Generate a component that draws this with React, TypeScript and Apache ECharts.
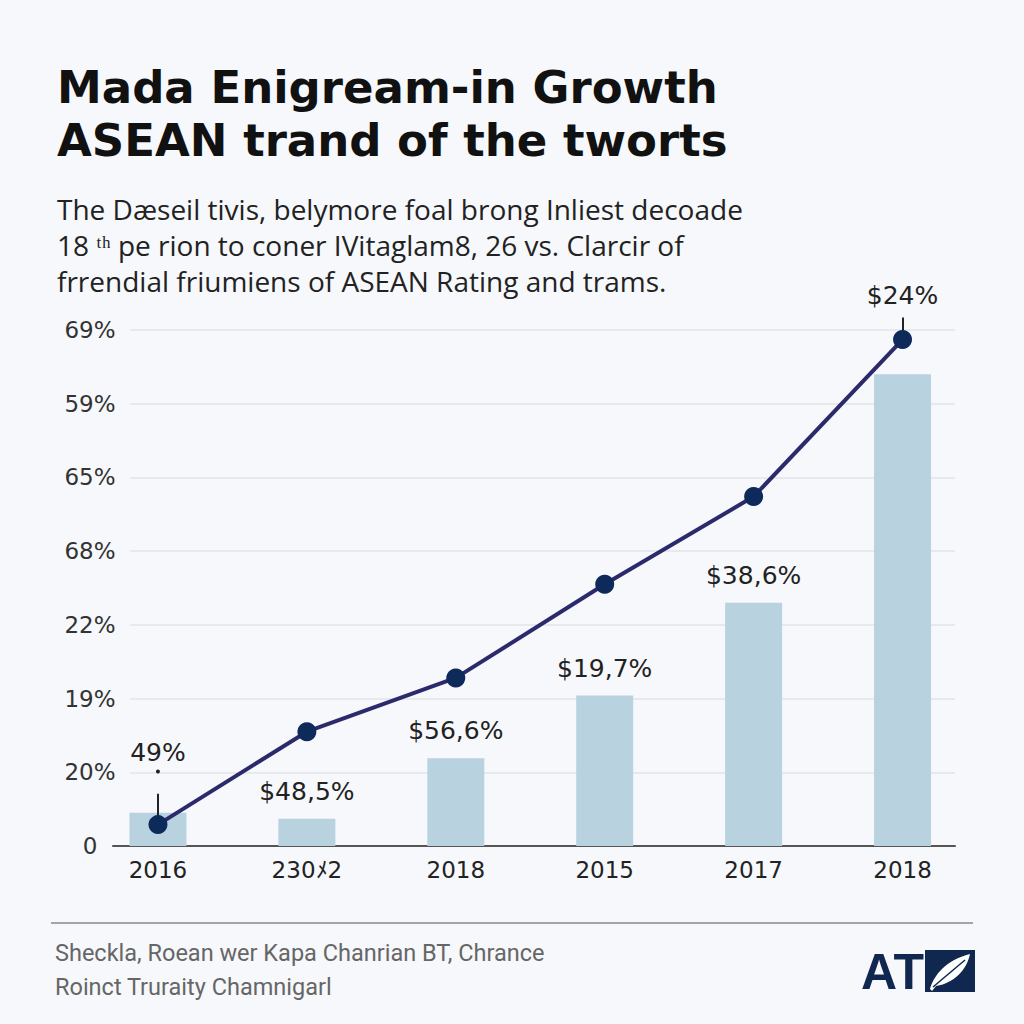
import React, { useEffect, useRef } from "react";
import * as echarts from "echarts";

const titleLines = ["Mada Enigream-in Growth", "ASEAN trand of the tworts"];
const subtitleLines = [
  "The Dæseil tivis, belymore foal brong Inliest decoade",
  "18 ᵗʰ pe rion to coner IVitaglam8, 26 vs. Clarcir of",
  "frrendial friumiens of ASEAN Rating and trams.",
];
const footerLines = [
  "Sheckla, Roean wer Kapa Chanrian BT, Chrance",
  "Roinct Truraity Chamnigarl",
];
const logoText = "AT";

const categories = ["2016", "230ﾒ2", "2018", "2015", "2017", "2018"];
const yTickLabels = ["0", "20%", "19%", "22%", "68%", "65%", "59%", "69%"];
const barValues = [0.45, 0.37, 1.19, 2.04, 3.3, 6.4];
const lineValues = [0.29, 1.55, 2.28, 3.55, 4.74, 6.87];
const barLabels = ["", "$48,5%", "$56,6%", "$19,7%", "$38,6%", ""];
const pointLabels = ["49%", "", "", "", "", "$24%"];

echarts.graphic.registerShape(
  "leaf",
  echarts.graphic.extendPath("M5 39 C9 25 21 10 45 4 C42 19 30 33 11 36 L7 41 Z", {}) as any
);

const FONT = "DejaVu Sans";

export default function App() {
  const ref = useRef<HTMLDivElement>(null);
  useEffect(() => {
    if (!ref.current) return;
    const chart = echarts.init(ref.current, undefined, { renderer: "svg" });
    const labelGap: Record<number, number> = { 0: 50, 5: 22 };
    const tickLen: Record<number, number> = { 0: 0.42, 5: 0.3 };
    const labeled = pointLabels
      .map((t, i) => (t ? i : -1))
      .filter((i) => i >= 0);
    // plot area: y from 0 (px 846) to 7 (px 330); the data grid extends by 0.5 unit above
    const unitPx = (846 - 330) / 7;
    const dataTop = 330 - unitPx * 0.5;
    const titleStyle = {
      fontFamily: "DejaVu Sans",
      fontWeight: "bold",
      fontSize: 45,
      lineHeight: 45,
      color: "#111",
    };
    const option: any = {
      animation: false,
      backgroundColor: "#f6f8fb",
      title: [
        { text: titleLines[0], left: 57, top: 65, padding: 0, textStyle: titleStyle },
        { text: titleLines[1], left: 57, top: 118, padding: 0, textStyle: titleStyle },
        {
          text: subtitleLines.join("\n"),
          left: 57,
          top: 191,
          padding: 0,
          textStyle: {
            fontFamily: "Open Sans",
            fontWeight: "normal",
            fontSize: 28,
            lineHeight: 36,
            color: "#222",
          },
        },
        {
          text: footerLines.join("\n"),
          left: 55,
          top: 936,
          padding: 0,
          textStyle: {
            fontFamily: "Roboto",
            fontWeight: "normal",
            fontSize: 23.5,
            lineHeight: 34,
            color: "#666",
          },
        },
      ],
      grid: [
        { left: 130, right: 69, top: 330, bottom: 178 },
        { left: 83.5, right: 47, top: dataTop, bottom: 178 },
        { left: 113, right: 69, top: 330, bottom: 178 },
      ],
      xAxis: [
        { gridIndex: 0, type: "value", show: false, min: 0, max: 1 },
        {
          gridIndex: 1,
          type: "category",
          data: categories,
          axisLine: { show: false },
          axisTick: { show: false },
          axisLabel: { fontFamily: FONT, fontSize: 23, color: "#222", margin: 12 },
        },
        {
          gridIndex: 2,
          type: "value",
          min: 0,
          max: 1,
          position: "bottom",
          axisLine: { show: true, onZero: false, lineStyle: { color: "#555", width: 2 } },
          axisTick: { show: false },
          axisLabel: { show: false },
          splitLine: { show: false },
        },
      ],
      yAxis: [
        {
          gridIndex: 0,
          type: "value",
          min: 0,
          max: 7,
          interval: 1,
          axisLine: { show: false },
          axisTick: { show: false },
          axisLabel: {
            fontFamily: FONT,
            fontSize: 23,
            color: "#333",
            align: "center",
            margin: 40,
            formatter: (v: number) => yTickLabels[Math.round(v)] ?? "",
          },
          splitLine: { show: true, lineStyle: { color: "#e2e5e9", width: 1.5 } },
        },
        { gridIndex: 1, type: "value", min: 0, max: 7.5, show: false },
        { gridIndex: 2, type: "value", min: 0, max: 7, show: false },
      ],
      series: [
        {
          type: "bar",
          xAxisIndex: 1,
          yAxisIndex: 1,
          barWidth: 57,
          itemStyle: { color: "#b8d2e0" },
          data: barValues.map((v, i) => ({
            value: v,
            label: {
              show: !!barLabels[i],
              position: "top",
              distance: 15,
              formatter: barLabels[i],
              fontFamily: FONT,
              fontSize: 25,
              color: "#222",
            },
          })),
        },
        {
          type: "line",
          xAxisIndex: 1,
          yAxisIndex: 1,
          symbol: "circle",
          symbolSize: 19,
          clip: false,
          lineStyle: { color: "#2b2a6b", width: 4 },
          itemStyle: { color: "#0e2a5a" },
          z: 5,
          data: lineValues.map((v, i) => ({
            value: v,
            label: {
              show: !!pointLabels[i],
              position: "top",
              distance: labelGap[i] ?? 10,
              formatter: pointLabels[i],
              fontFamily: FONT,
              fontSize: 25,
              color: "#222",
            },
          })),
          markLine: {
            silent: true,
            symbol: "none",
            label: { show: false },
            lineStyle: { color: "#222", width: 2, type: "solid" },
            data: labeled.map((i) => [
              { coord: [i, lineValues[i]] },
              { coord: [i, lineValues[i] + (tickLen[i] ?? 0.3)] },
            ]),
          },
          markPoint: {
            silent: true,
            symbol: "circle",
            symbolSize: 4,
            itemStyle: { color: "#222" },
            label: { show: false },
            data: [{ coord: [0, lineValues[0] + 0.72] }],
          },
        },
      ],
      graphic: [
        {
          type: "line",
          shape: { x1: 51, y1: 923, x2: 973, y2: 923 },
          style: { stroke: "#8a8a8a", lineWidth: 1.5 },
        },
        {
          type: "text",
          x: 924,
          y: 972,
          style: {
            text: logoText,
            fontFamily: "Liberation Sans",
            fontWeight: "bold",
            fontSize: 50,
            fill: "#10284f",
            align: "right",
            verticalAlign: "middle",
          },
        },
        {
          type: "rect",
          shape: { x: 925, y: 950, width: 50, height: 42 },
          style: { fill: "#10284f" },
        },
        {
          type: "leaf",
          x: 925,
          y: 950,
          style: { fill: "#ffffff" },
        },
        {
          type: "line",
          shape: { x1: 933, y1: 987, x2: 965, y2: 960 },
          style: { stroke: "#10284f", lineWidth: 1.5 },
        },
      ],
    };
    chart.setOption(option);
    return () => chart.dispose();
  }, []);
  return (
    <div
      ref={ref}
      style={{ position: "fixed", left: 0, top: 0, width: 1024, height: 1024 }}
    />
  );
}
